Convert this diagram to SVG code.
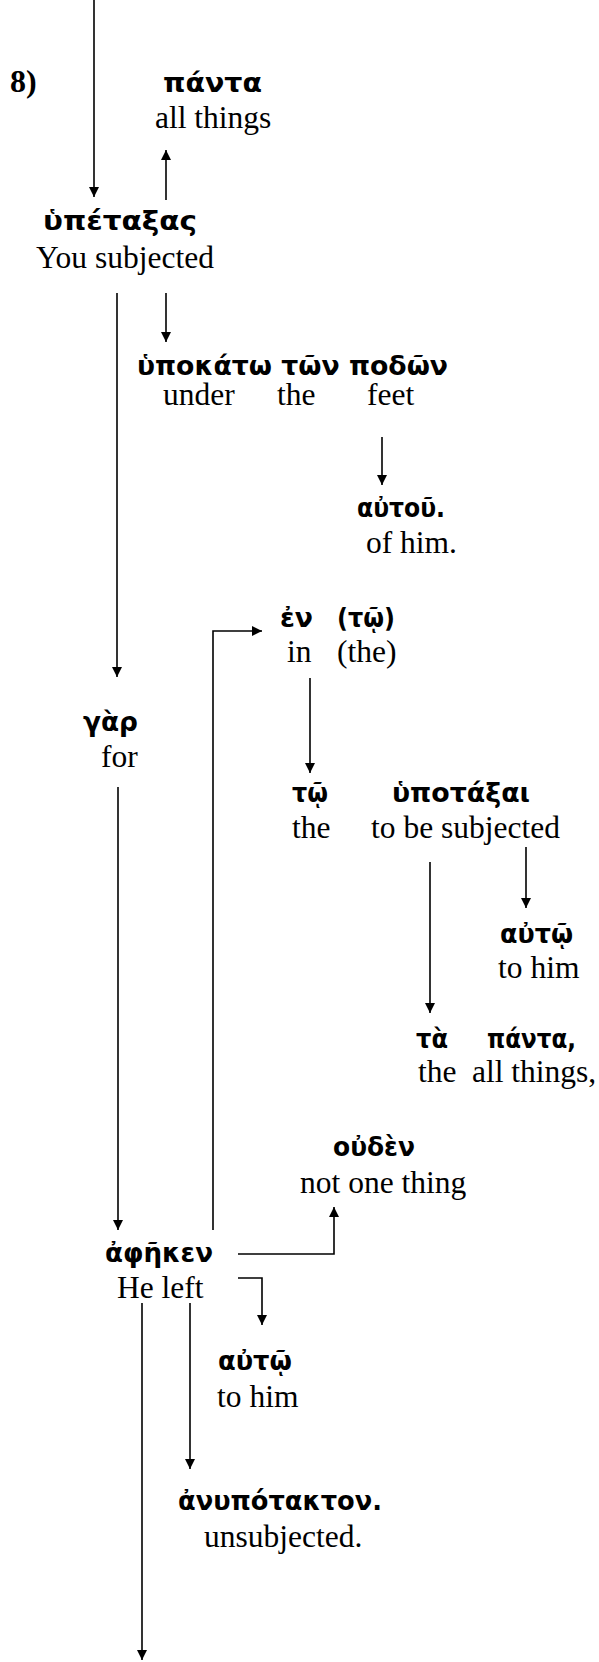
<svg xmlns="http://www.w3.org/2000/svg" width="599" height="1662" viewBox="0 0 599 1662">
<style>
.g{font-family:"DejaVu Sans","Noto Sans",sans-serif;font-weight:bold;font-size:26px;fill:#000}
.e{font-family:"Liberation Serif","Times New Roman",serif;font-size:31.5px;fill:#000}
.n{font-family:"Liberation Serif","Times New Roman",serif;font-size:32px;font-weight:bold;fill:#000}
.c{fill:none;stroke:#000;stroke-width:1.6}
</style>
<defs>
<marker id="ah" viewBox="0 0 10 10" refX="10" refY="5" markerWidth="10" markerHeight="10" markerUnits="userSpaceOnUse" orient="auto">
<path d="M0,0 L10,5 L0,10 z" fill="#000"/>
</marker>
</defs>
<rect width="599" height="1662" fill="#fff"/>
<g id="connectors">
<path class="c" d="M94,0 V197" marker-end="url(#ah)"/>
<path class="c" d="M166,200 V150" marker-end="url(#ah)"/>
<path class="c" d="M166,293 V342" marker-end="url(#ah)"/>
<path class="c" d="M117,293 V677" marker-end="url(#ah)"/>
<path class="c" d="M382,437 V485" marker-end="url(#ah)"/>
<path class="c" d="M213,1230 V631 H262" marker-end="url(#ah)"/>
<path class="c" d="M310,678 V773" marker-end="url(#ah)"/>
<path class="c" d="M526,847 V908" marker-end="url(#ah)"/>
<path class="c" d="M430,862 V1013" marker-end="url(#ah)"/>
<path class="c" d="M118,787 V1230" marker-end="url(#ah)"/>
<path class="c" d="M238,1254 H334 V1207" marker-end="url(#ah)"/>
<path class="c" d="M238,1278 H262 V1325" marker-end="url(#ah)"/>
<path class="c" d="M190,1303 V1469" marker-end="url(#ah)"/>
<path class="c" d="M142,1303 V1660" marker-end="url(#ah)"/>
</g>
<g id="label-8"><text class="n" x="10" y="92">8)</text></g>
<g id="node-panta"><text class="g" x="163" y="92" textLength="99" lengthAdjust="spacingAndGlyphs">πάντα</text><text class="e" x="155" y="128">all things</text></g>
<g id="node-hypetaxas"><text class="g" x="43" y="230" textLength="154" lengthAdjust="spacingAndGlyphs">ὑπέταξας</text><text class="e" x="36" y="268">You subjected</text></g>
<g id="node-hypokato"><text class="g" x="137" y="375" textLength="311" lengthAdjust="spacingAndGlyphs">ὑποκάτω τῶν ποδῶν</text><text class="e" x="163" y="405">under</text><text class="e" x="277" y="405">the</text><text class="e" x="367" y="405">feet</text></g>
<g id="node-autou"><text class="g" x="357" y="517" textLength="88" lengthAdjust="spacingAndGlyphs">αὐτοῦ.</text><text class="e" x="366" y="553">of him.</text></g>
<g id="node-en"><text class="g" x="280" y="627" textLength="33" lengthAdjust="spacingAndGlyphs">ἐν</text><text class="g" x="337" y="627" textLength="58" lengthAdjust="spacingAndGlyphs">(τῷ)</text><text class="e" x="287" y="662">in</text><text class="e" x="337" y="662">(the)</text></g>
<g id="node-gar"><text class="g" x="83" y="731" textLength="55" lengthAdjust="spacingAndGlyphs">γὰρ</text><text class="e" x="101" y="767">for</text></g>
<g id="node-to"><text class="g" x="292" y="802" textLength="36" lengthAdjust="spacingAndGlyphs">τῷ</text><text class="e" x="292" y="838">the</text></g>
<g id="node-hypotaxai"><text class="g" x="392" y="802" textLength="138" lengthAdjust="spacingAndGlyphs">ὑποτάξαι</text><text class="e" x="371" y="838">to be subjected</text></g>
<g id="node-auto1"><text class="g" x="500" y="943" textLength="73" lengthAdjust="spacingAndGlyphs">αὐτῷ</text><text class="e" x="498" y="978">to him</text></g>
<g id="node-ta-panta"><text class="g" x="416" y="1048" textLength="32" lengthAdjust="spacingAndGlyphs">τὰ</text><text class="g" x="487" y="1048" textLength="89" lengthAdjust="spacingAndGlyphs">πάντα,</text><text class="e" x="418" y="1082">the</text><text class="e" x="472" y="1082">all things,</text></g>
<g id="node-ouden"><text class="g" x="333" y="1156" textLength="82" lengthAdjust="spacingAndGlyphs">οὐδὲν</text><text class="e" x="300" y="1193">not one thing</text></g>
<g id="node-apheken"><text class="g" x="105" y="1262" textLength="108" lengthAdjust="spacingAndGlyphs">ἀφῆκεν</text><text class="e" x="117" y="1298">He left</text></g>
<g id="node-auto2"><text class="g" x="218" y="1370" textLength="74" lengthAdjust="spacingAndGlyphs">αὐτῷ</text><text class="e" x="217" y="1407">to him</text></g>
<g id="node-anypotakton"><text class="g" x="178" y="1510" textLength="204" lengthAdjust="spacingAndGlyphs">ἀνυπότακτον.</text><text class="e" x="204" y="1547">unsubjected.</text></g>
</svg>
